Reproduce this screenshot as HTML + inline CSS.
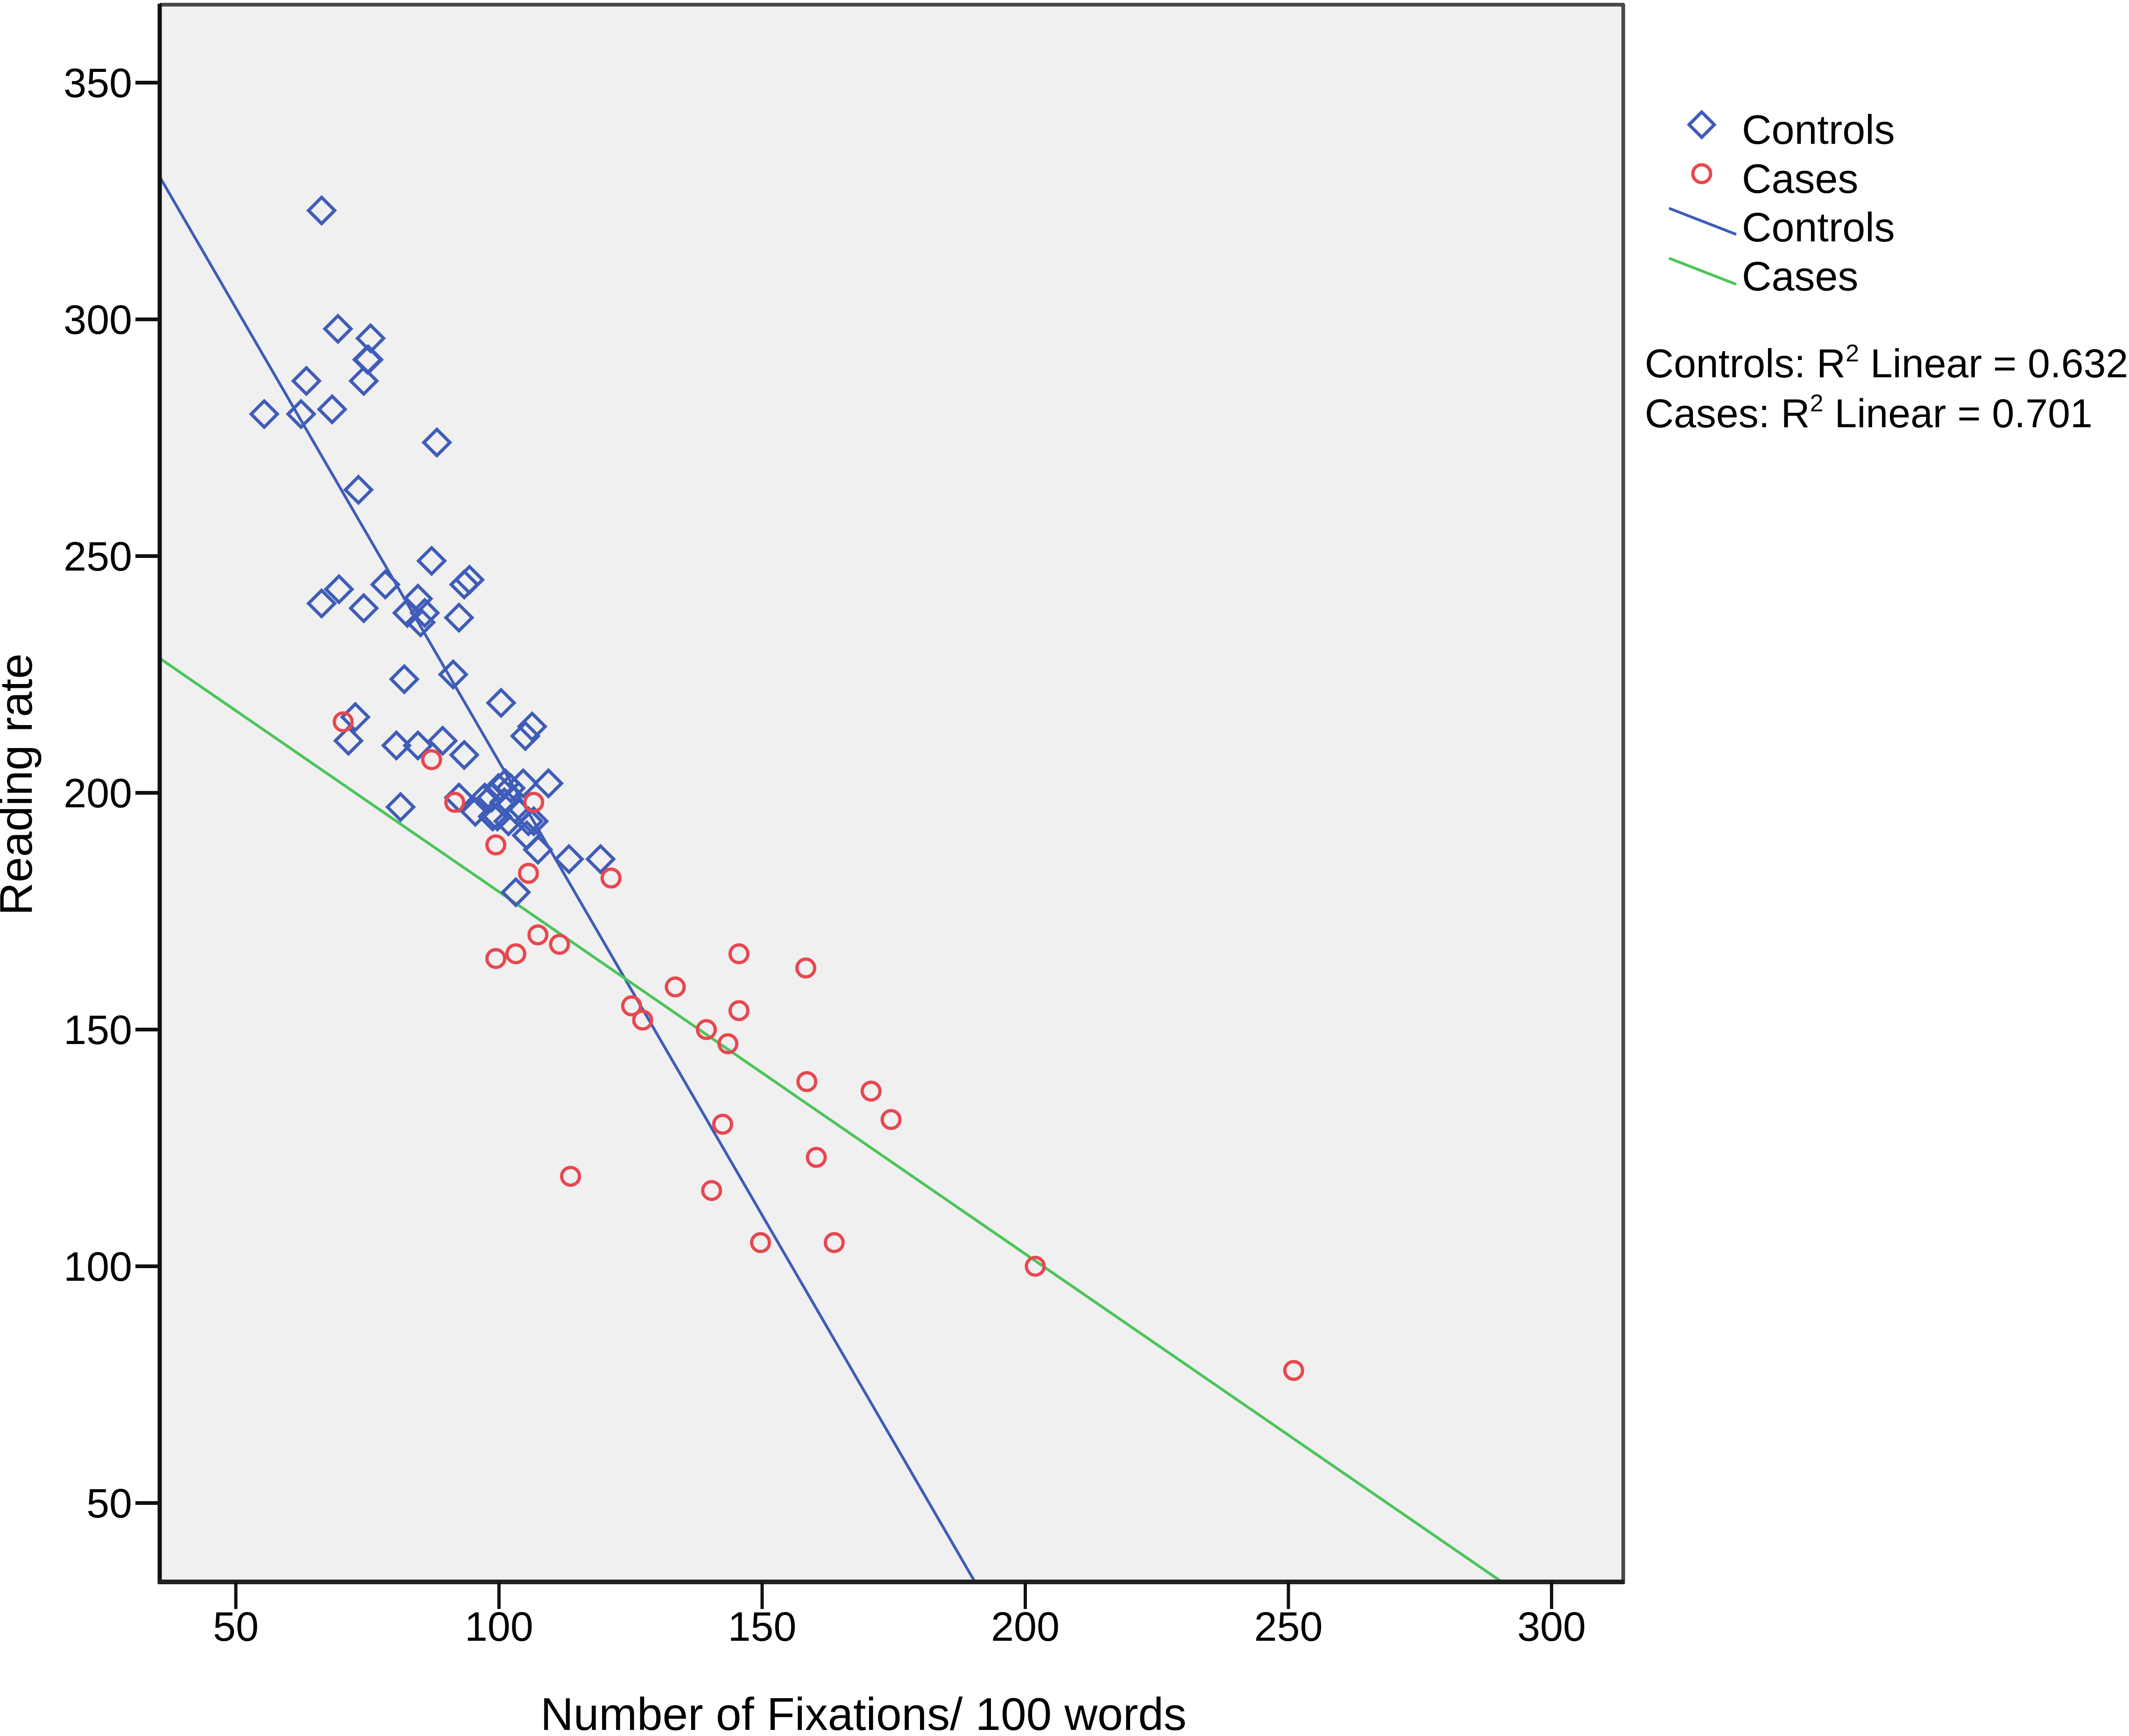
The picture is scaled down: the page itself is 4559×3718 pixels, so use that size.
<!DOCTYPE html>
<html><head><meta charset="utf-8"><style>
html,body{margin:0;padding:0;background:#fff;}
svg{display:block;}
text{font-family:"Liberation Sans",sans-serif;fill:#000;}
</style></head><body>
<svg id="chart" width="4559" height="3718" viewBox="0 0 4559 3718" xmlns="http://www.w3.org/2000/svg">
<rect x="342" y="10" width="3132" height="3378" fill="#f0f0f0"/>
<g id="lines"></g>
<g id="marks"></g>
<line x1="342" y1="10" x2="3478" y2="10" stroke="#4a4a4a" stroke-width="8"/>
<line x1="3476" y1="8" x2="3476" y2="3392" stroke="#4a4a4a" stroke-width="8"/>
<line x1="342" y1="8" x2="342" y2="3392" stroke="#111" stroke-width="9"/>
<line x1="338" y1="3388" x2="3478" y2="3388" stroke="#222" stroke-width="10"/>
<g id="axes"></g>
<text x="1849" y="3705" font-size="98" text-anchor="middle">Number of Fixations/ 100 words</text>
<text x="0" y="0" font-size="98" text-anchor="middle" transform="translate(68,1680) rotate(-90)">Reading rate</text>
<g>
<path d="M3644 240 L3671 267 L3644 294 L3617 267 Z" fill="none" stroke="#3f5cb8" stroke-width="7"/>
<text x="3730" y="308" font-size="88">Controls</text>
<circle cx="3644" cy="372" r="19" fill="none" stroke="#e8474f" stroke-width="7"/>
<text x="3730" y="413" font-size="88">Cases</text>
<line x1="3574" y1="446" x2="3718" y2="502" stroke="#3f5cb8" stroke-width="6"/>
<text x="3730" y="517" font-size="88">Controls</text>
<line x1="3574" y1="553" x2="3718" y2="609" stroke="#4cc45a" stroke-width="6"/>
<text x="3730" y="622" font-size="88">Cases</text>
<text x="3522" y="808" font-size="86">Controls: R<tspan font-size="52" dy="-34">2</tspan><tspan dy="34"> Linear = 0.632</tspan></text>
<text x="3522" y="915" font-size="86">Cases: R<tspan font-size="52" dy="-34">2</tspan><tspan dy="34"> Linear = 0.701</tspan></text>
</g>
</svg>
<script>
const xTicks = [50,100,150,200,250,300];
const yTicks = [50,100,150,200,250,300,350];
const controlsX = [66.3,69.4,75.6,75,75.2,63.4,74.3,55.4,62.4,68.3,88.2,73.3,87.2,69.6,66.3,74.3,78.4,82.6,84.6,85.1,85.9,93.4,94.4,92.4,82,91.3,72.7,71.4,80.5,84.6,89.3,93.4,100.4,106.3,105,81.3,92.4,95.5,97.3,98.6,99.9,101.2,102.2,101,99.7,101.8,103.6,104.6,105.6,106.6,105.3,109.4,107.4,113.3,119.3,103.2,98.8];
const controlsY = [323,298,296,291.5,291.5,287,287,280,280,281,274,264,249,243,240,239,244,238,241,236,238,244,245,237,224,225,216,211,210,210,211,208,219,214,212,197,199,196,199,199,201,202,201,198,195,194,196,202,194,194,191,202,188,186,186,179,195];
const casesX = [70.4,87.2,91.6,106.6,99.4,105.6,121.3,99.4,103.2,107.4,111.5,145.6,158.3,133.5,125.2,127.3,139.4,143.5,145.6,158.5,170.7,174.5,142.5,160.3,113.6,140.4,149.7,163.7,201.9,251];
const casesY = [215,207,198,198,189,183,182,165,166,170,168,166,163,159,155,152,150,147,154,139,137,131,130,123,119,116,105,105,100,78];
const controlsFit = [398.2,-1.916];
const casesFit = [255.6,-0.765];
const xDomain = [35.6,314];
const yDomain = [33.3,366.5];

const NS='http://www.w3.org/2000/svg';
function sx(v){return 505+(v-50)*11.27;}
function sy(v){return 177+(350-v)*10.14;}
function mk(tag,attrs,parent){const e=document.createElementNS(NS,tag);for(const k in attrs)e.setAttribute(k,attrs[k]);parent.appendChild(e);return e;}
const axes=document.getElementById('axes');
const lines=document.getElementById('lines');
const marks=document.getElementById('marks');
xTicks.forEach(t=>{
  const l=mk('line',{x1:sx(t),y1:3388,x2:sx(t),y2:3446,stroke:'#111','stroke-width':7},axes);
  
  
  const tx=mk('text',{x:sx(t),y:3514,'font-size':88,'text-anchor':'middle'},axes);
  tx.textContent=t;
  
  
});
yTicks.forEach(t=>{
  const l=mk('line',{x1:290,y1:sy(t),x2:342,y2:sy(t),stroke:'#111','stroke-width':8},axes);
  
  
  const tx=mk('text',{x:283,y:sy(t)+31,'font-size':88,'text-anchor':'end'},axes);
  tx.textContent=t;
  
  
});
function fitLine(fit,color,name){
  const a=fit[0],b=fit[1];
  let x0=xDomain[0],y0=a+b*x0;
  let x1=(yDomain[0]-a)/b; if(x1>xDomain[1])x1=xDomain[1];
  const y1=a+b*x1;
  const l=mk('line',{x1:sx(x0),y1:sy(y0),x2:sx(x1),y2:sy(y1),stroke:color,'stroke-width':6},lines);
  
  
}
fitLine(controlsFit,'#3f5cb8','controls-fit-line');
fitLine(casesFit,'#4cc45a','cases-fit-line');
controlsX.forEach((v,i)=>{
  const cx=sx(v),cy=sy(controlsY[i]),r=28;
  const p=mk('path',{d:`M${cx} ${cy-r} L${cx+r} ${cy} L${cx} ${cy+r} L${cx-r} ${cy} Z`,fill:'none',stroke:'#3f5cb8','stroke-width':7},marks);
  
  
});
casesX.forEach((v,i)=>{
  const c=mk('circle',{cx:sx(v),cy:sy(casesY[i]),r:19,fill:'none',stroke:'#e8474f','stroke-width':7},marks);
  
  
});
</script>
</body></html>
